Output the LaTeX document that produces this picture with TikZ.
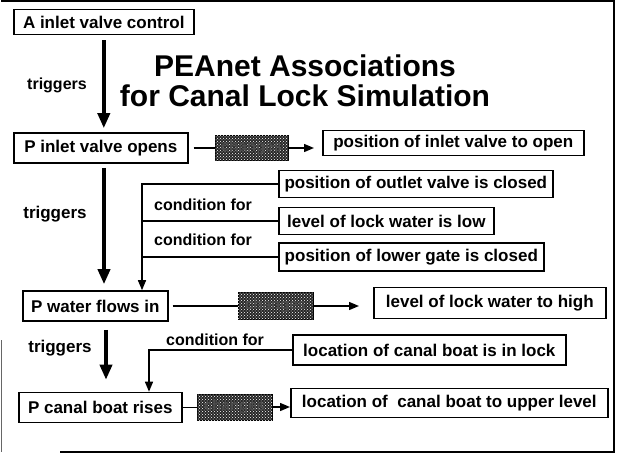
\documentclass[tikz,border=0pt]{standalone}
\usepackage{fontspec}
\setmainfont{Liberation Sans}
\usetikzlibrary{arrows.meta,patterns,calc}
\begin{document}
\begin{tikzpicture}[x=1pt,y=-1pt,
  box/.style={draw,line width=1.6pt,font=\fontsize{17}{20}\selectfont\bfseries,anchor=west,inner sep=2pt},
  hatch/.style={draw=black,line width=0.8pt,fill=black!85,postaction={pattern=crosshatch dots,pattern color=white},
    font=\fontsize{15}{18}\selectfont\bfseries,text=black!70,inner sep=1pt},
  conn/.style={line width=1.4pt},
  condarrow/.style={-{Triangle[length=10pt,width=8pt]}},
  trig/.style={line width=3.6pt,-{Triangle[length=15pt,width=12pt]}},
  lbl/.style={font=\fontsize{17}{20}\selectfont\bfseries,inner sep=0pt},
  cond/.style={font=\fontsize{16}{19}\selectfont\bfseries,inner sep=0pt},
  title/.style={font=\fontsize{30}{34}\selectfont\bfseries,inner sep=0pt}]
\useasboundingbox (0,0) rectangle (618,455);
% frame
\draw[line width=2pt] (60,452) -- (614,452) -- (614,1) -- (1,1);
\draw[line width=1pt,black!60] (1,340) -- (1,452);
% title
\node[title] (T1) at (305,66) {PEAnet Associations};
\node[title] (T2) at (305,96) {for Canal Lock Simulation};
% boxes
\node[box,minimum width=180pt,minimum height=25pt] (A) at (13,22) {A inlet valve control};
\node[box,minimum width=174pt,minimum height=30pt] (P1) at (13,148) {P inlet valve opens};
\node[hatch,minimum width=73pt,minimum height=25pt] (H1) at (251.5,148) {changes};
\node[box,minimum width=261pt,minimum height=25pt] (E1) at (322,143) {position of inlet valve to open};
\node[box,minimum width=274pt,minimum height=27pt] (C1) at (278,184) {position of outlet valve is closed};
\node[box,minimum width=215pt,minimum height=27pt] (C2) at (278,221) {level of lock water is low};
\node[box,minimum width=265pt,minimum height=28pt] (C3) at (278,257) {position of lower gate is closed};
\node[box,minimum width=145pt,minimum height=30pt] (P2) at (22,306) {P water flows in};
\node[hatch,minimum width=75pt,minimum height=27pt] (H2) at (275.5,306) {changes};
\node[box,minimum width=232pt,minimum height=31pt] (E2) at (373,303) {level of lock water to high};
\node[box,minimum width=273pt,minimum height=30pt] (C4) at (292,350) {location of canal boat is in lock};
\node[box,minimum width=163pt,minimum height=30pt] (P3) at (18,407.5) {P canal boat rises};
\node[hatch,minimum width=75pt,minimum height=26pt] (H3) at (234.5,407) {changes};
\node[box,minimum width=317pt,minimum height=29pt] (E3) at (290,403) {location of~ canal boat to upper level};
% labels
\node[lbl,font=\fontsize{16}{19}\selectfont\bfseries] (L1) at (57,85) {triggers};
\node[lbl] (L2) at (55,214) {triggers};
\node[lbl] (L3) at (60,348) {triggers};
\node[cond] (K1) at (203,205) {condition for};
\node[cond] (K2) at (203,240) {condition for};
\node[cond] (K3) at (215,340) {condition for};
% change connectors
\draw[conn,shorten <=5pt] (P1.east) -- (P1.east -| H1.west);
\draw[conn,condarrow,shorten >=8pt] (H1.east) -- (H1.east -| E1.west);
\draw[conn,shorten <=4pt] (P2.east) -- (P2.east -| H2.west);
\draw[conn,condarrow,shorten >=14pt] (H2.east) -- (H2.east -| E2.west);
\draw[conn] (P3.east) -- (P3.east -| H3.west);
\draw[conn,condarrow] (H3.east) -- (H3.east -| E3.west);
% condition connectors
\coordinate (cx) at (142,0);
\draw[conn,condarrow] (C1.west) -- (C1.west -| cx) -- (cx |- P2.north);
\draw[conn] (C2.west) -- (C2.west -| cx);
\draw[conn] (C3.west) -- (C3.west -| cx);
\coordinate (cx2) at (149,0);
\draw[conn,condarrow] (C4.west) -- (C4.west -| cx2) -- (cx2 |- P3.north);
% triggers
\coordinate (tx) at (104,0);
\coordinate (tx3) at (106,0);
\draw[trig,shorten <=5pt,shorten >=4pt] (A.south) -- (A.south |- P1.north);
\draw[trig,shorten <=4pt,shorten >=6pt] (tx |- P1.south) -- (tx |- P2.north);
\draw[trig,shorten <=8pt,shorten >=12pt] (tx3 |- P2.south) -- (tx3 |- P3.north);
\end{tikzpicture}
\end{document}
